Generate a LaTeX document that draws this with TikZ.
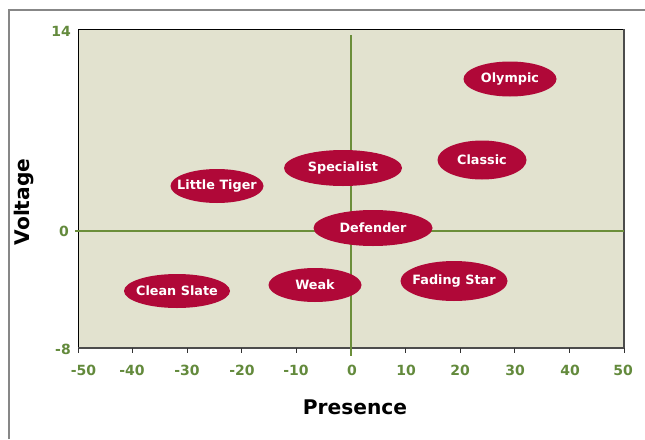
\documentclass[tikz,border=0pt]{standalone}
\usepackage{fontspec}
\setmainfont{DejaVu Sans}
\usetikzlibrary{shapes.geometric}
\definecolor{plotbg}{HTML}{E2E2CF}
\definecolor{axgreen}{HTML}{6B8E3A}
\definecolor{lblgreen}{HTML}{638A3C}
\definecolor{crimson}{HTML}{B00838}
\definecolor{framegray}{HTML}{878787}
\tikzset{
  blob/.style={ellipse, fill=crimson, inner xsep=-30pt, inner ysep=-5pt, text=white, font=\bfseries\fontsize{12.8}{15}\selectfont},
  ticklbl/.style={text=lblgreen, font=\bfseries\fontsize{14}{16}\selectfont, inner sep=0pt},
  axtitle/.style={font=\bfseries\fontsize{20.2}{23}\selectfont, inner sep=0pt},
  axline/.style={draw=axgreen, line width=1.8pt},
}
\begin{document}
\begin{tikzpicture}[x=1pt,y=-1pt]
\useasboundingbox (0,0) rectangle (645,439);
\fill[white] (0,0) rectangle (645,439);
% outer frame
\draw[framegray, line width=2.8pt] (9,439) -- (9,10) -- (645,10);
% plot area
\fill[plotbg] (78,29) rectangle (624,348);
\draw[black, line width=0.9pt] (78,348) -- (78,29) -- (624,29);
\draw[black!70, line width=1.6pt] (624,29) -- (624,348) -- (78,348);
% ticks
\foreach \v in {-50,-40,...,50} {
  \draw[black!80, line width=0.8pt] ({351+5.46*\v},348) -- ({351+5.46*\v},353);
}
% axes
\draw[axline] (75,231) -- (624,231);
\draw[axline] (351,35) -- (351,356);
% tick labels
\node[ticklbl] (xm50) at (83.5,370) {-50};
\node[ticklbl] (xm40) at (132,370) {-40};
\node[ticklbl] (xm30) at (187,370) {-30};
\node[ticklbl] (xm20) at (242,370) {-20};
\node[ticklbl] (xm10) at (296,370) {-10};
\node[ticklbl] (x0) at (352,370) {0};
\node[ticklbl] (x10) at (406,370) {10};
\node[ticklbl] (x20) at (460,370) {20};
\node[ticklbl] (x30) at (515,370) {30};
\node[ticklbl] (x40) at (570,370) {40};
\node[ticklbl] (x50) at (623,370) {50};
\node[ticklbl, anchor=east] (y14) at (71,31) {14};
\node[ticklbl] (y0) at (64,231) {0};
\node[ticklbl, anchor=east] (ym8) at (71,349) {-8};
% axis titles
\node[axtitle] (xtitle) at (355,407) {Presence};
\node[axtitle, rotate=90] (ytitle) at (24.5,202) {Voltage};
% ellipses
\node[blob, minimum width=93pt, minimum height=35pt] (olympic) at (510,79) {Olympic};
\node[blob, minimum width=89pt, minimum height=39pt] (classic) at (482,160) {Classic};
\node[blob, minimum width=118pt, minimum height=36pt] (specialist) at (343,168) {Specialist};
\node[blob, minimum width=93pt, minimum height=34pt] (tiger) at (217,186) {Little Tiger};
\node[blob, minimum width=119pt, minimum height=36pt] (defender) at (373,228) {Defender};
\node[blob, minimum width=93pt, minimum height=34pt] (weak) at (315,285) {Weak};
\node[blob, minimum width=107pt, minimum height=40pt] (fading) at (454,281) {Fading Star};
\node[blob, minimum width=106pt, minimum height=34pt] (clean) at (177,291) {Clean Slate};
\end{tikzpicture}
\end{document}
